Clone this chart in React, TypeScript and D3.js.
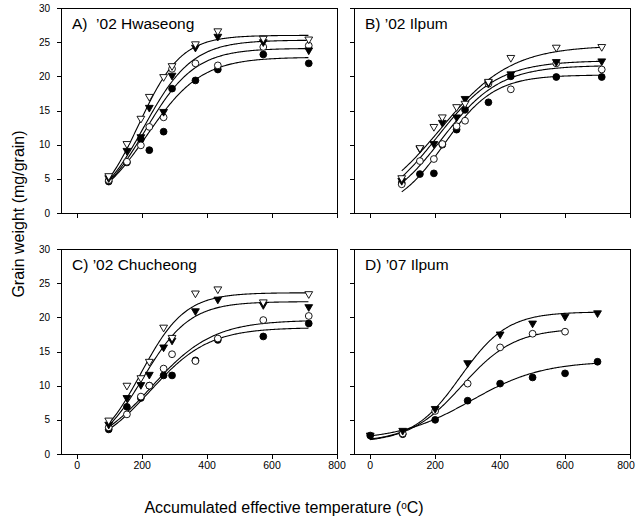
import React from 'react';
import * as d3 from 'd3';

const xTicks = [0, 200, 400, 600, 800];
const yTicks = [0, 5, 10, 15, 20, 25, 30];

// accumulated effective temperature (oC) at sampling
const temp02 = [97, 153, 196, 222, 266, 292, 364, 433, 573, 713];
const temp07 = [0, 100, 200, 300, 400, 500, 600, 700];

// A) '02 Hwaseong
const hwaOpenTri = [5.3, 10.0, 13.7, 16.9, 19.8, 21.4, 24.6, 26.5, 25.4, 25.3];
const hwaFillTri = [5.0, 9.0, 11.0, 15.3, 14.7, 20.0, 24.1, 25.7, 24.9, 23.7];
const hwaOpenCirc = [4.8, 7.5, 9.9, 12.6, 14.0, 21.1, 21.9, 21.6, 24.3, 24.5];
const hwaFillCirc = [4.6, 7.4, 10.8, 9.2, 11.9, 18.2, 19.4, 21.0, 23.2, 21.9];

// B) '02 Ilpum
const ilpOpenTri = [5.0, 9.4, 12.5, 13.9, 15.4, 15.9, 19.1, 22.6, 24.1, 24.2];
const ilpFillTri = [4.6, 9.3, 10.0, 13.1, 13.9, 16.6, 18.9, 20.2, 22.0, 22.1];
const ilpOpenCirc = [4.2, 7.6, 7.9, 10.1, 12.7, 13.5, 18.9, 18.1, 21.9, 21.0];
const ilpFillCirc = [4.4, 5.7, 5.8, 10.0, 12.2, 15.1, 16.2, 20.0, 19.9, 19.9];

// C) '02 Chucheong
const chuOpenTri = [4.8, 9.9, 11.0, 13.4, 18.4, 16.9, 23.4, 24.0, 22.1, 23.3];
const chuFillTri = [4.2, 8.1, 10.0, 11.5, 15.5, 16.5, 20.8, 22.5, 21.7, 21.4];
const chuOpenCirc = [3.9, 5.8, 8.4, 10.0, 12.5, 14.6, 13.6, 16.9, 19.6, 20.2];
const chuFillCirc = [3.6, 6.9, 8.2, 10.0, 11.5, 11.5, 13.7, 16.7, 17.2, 19.1];

// D) '07 Ilpum
const ilp07FillTri = [2.6, 3.3, 6.5, 13.2, 17.4, 19.0, 20.0, 20.5];
const ilp07OpenCirc = [null, 3.0, 6.3, 10.3, 15.6, 17.6, 17.9, null];
const ilp07FillCirc = [2.7, 2.9, 5.0, 7.8, 10.3, 11.2, 11.8, 13.5];

// sigmoid fits y = y0 + a / (1 + exp(-(x - x0) / b)) : [y0, a, x0, b]
const hwaFits = [[0, 26, 190, 65], [0, 25.3, 206, 74.4], [0, 24.1, 209, 76.8], [0, 22.8, 215, 83.8]];
const ilpFits = [[0, 24.5, 215.6, 109], [0, 22.3, 206.7, 93.5], [0, 21.6, 219.7, 89.7], [0, 20.2, 228, 76.7]];
const chuFits = [[0, 23.6, 196, 68], [0, 22.3, 203, 72], [0, 19.6, 228, 95], [0, 18.5, 225, 90]];
const ilp07Fits = [[1.8, 19.0, 277.6, 72.3], [1.6, 16.8, 282.6, 81.1], [2.0, 11.6, 310, 110]];
const fitRange02 = [[97, 713], [97, 713], [97, 713], [97, 713]];
const fitRange07 = [[0, 700], [0, 600], [0, 700]];

type Kind = 'openTri' | 'fillTri' | 'openCirc' | 'fillCirc';
interface Series { kind: Kind; values: (number | null)[]; fit: number[]; range: number[] }
interface PanelProps {
  left: number; top: number; width: number; height: number;
  title: string; temps: number[]; series: Series[];
  xLabels: boolean; yLabels: boolean;
}

const font = '"Liberation Sans", Arial, sans-serif';
// filled circles go underneath, open triangles on top
const drawOrder: Kind[] = ['fillCirc', 'openCirc', 'fillTri', 'openTri'];

const sigmoid = (p: number[], x: number) => p[0] + p[1] / (1 + Math.exp(-(x - p[2]) / p[3]));

const Marker = ({ kind, cx, cy }: { kind: Kind; cx: number; cy: number }) => {
  const fill = kind.startsWith('fill') ? '#000' : '#fff';
  if (kind.endsWith('Circ')) {
    return <circle cx={cx} cy={cy} r={3.4} fill={fill} stroke="#000" strokeWidth={0.9} />;
  }
  const d = `M${cx - 3.9},${cy - 3.1}L${cx + 3.9},${cy - 3.1}L${cx},${cy + 3.6}Z`;
  return <path d={d} fill={fill} stroke="#000" strokeWidth={0.9} />;
};

const Panel = ({ left, top, width, height, title, temps, series, xLabels, yLabels }: PanelProps) => {
  const x = d3.scaleLinear().domain([-50, 800]).range([left, left + width]);
  const y = d3.scaleLinear().domain([0, 30]).range([top + height, top]);
  const bottom = top + height;

  const sorted = drawOrder
    .map(k => series.find(s => s.kind === k))
    .filter((s): s is Series => !!s);

  return (
    <g>
      <rect x={left + 0.5} y={top + 0.5} width={width} height={height} fill="none" stroke="#000" strokeWidth={1} />
      {yTicks.map(t => (
        <g key={'y' + t}>
          <line x1={left - 4} x2={left} y1={Math.round(y(t)) + 0.5} y2={Math.round(y(t)) + 0.5} stroke="#000" />
          {yLabels && (
            <text x={left - 11} y={y(t)} dy="0.35em" textAnchor="end" fontSize={10} fontFamily={font}>{t}</text>
          )}
        </g>
      ))}
      {xTicks.map(t => (
        <g key={'x' + t}>
          <line x1={Math.round(x(t)) + 0.5} x2={Math.round(x(t)) + 0.5} y1={bottom} y2={bottom + 5} stroke="#000" />
          {xLabels && (
            <text x={Math.min(x(t), 626)} y={bottom + 15} textAnchor="middle" fontSize={10.5} fontFamily={font}>{t}</text>
          )}
        </g>
      ))}
      <text x={left + 11} y={top + 21} fontSize={15.5} fontFamily={font} style={{ whiteSpace: 'pre' }}>{title}</text>
      {series.map((s, i) => {
        const pts = d3.range(s.range[0], s.range[1] + 0.1, 3);
        const path = d3.line<number>().x(d => x(d)).y(d => y(sigmoid(s.fit, d)))(pts);
        return <path key={'c' + i} d={path || ''} fill="none" stroke="#000" strokeWidth={1.1} />;
      })}
      {sorted.map(s => s.values.map((v, j) =>
        v == null ? null : <Marker key={s.kind + j} kind={s.kind} cx={x(temps[j])} cy={y(v)} />
      ))}
    </g>
  );
};

const build = (vals: (number | null)[][], fits: number[][], kinds: Kind[], ranges: number[][]): Series[] =>
  kinds.map((k, i) => ({ kind: k, values: vals[i], fit: fits[i], range: ranges[i] }));

const kinds4: Kind[] = ['openTri', 'fillTri', 'openCirc', 'fillCirc'];
const kinds3: Kind[] = ['fillTri', 'openCirc', 'fillCirc'];

export default function App() {
  const w = 276;
  const h = 205;
  return (
    <svg width={636} height={520} style={{ position: 'absolute', left: 0, top: 0, background: '#fff' }}>
      <Panel left={61} top={8} width={w} height={h} title={'A)  \u201902 Hwaseong'} temps={temp02}
        series={build([hwaOpenTri, hwaFillTri, hwaOpenCirc, hwaFillCirc], hwaFits, kinds4, fitRange02)}
        xLabels={false} yLabels={true} />
      <Panel left={354} top={8} width={w} height={h} title={'B) \u201902 Ilpum'} temps={temp02}
        series={build([ilpOpenTri, ilpFillTri, ilpOpenCirc, ilpFillCirc], ilpFits, kinds4, fitRange02)}
        xLabels={false} yLabels={false} />
      <Panel left={61} top={249} width={w} height={h} title={'C) \u201902 Chucheong'} temps={temp02}
        series={build([chuOpenTri, chuFillTri, chuOpenCirc, chuFillCirc], chuFits, kinds4, fitRange02)}
        xLabels={true} yLabels={true} />
      <Panel left={354} top={249} width={w} height={h} title={'D) \u201907 Ilpum'} temps={temp07}
        series={build([ilp07FillTri, ilp07OpenCirc, ilp07FillCirc], ilp07Fits, kinds3, fitRange07)}
        xLabels={true} yLabels={false} />
      <text transform="translate(24,214) rotate(-90)" textAnchor="middle" fontSize={16} fontFamily={font}>
        Grain weight (mg/grain)
      </text>
      <text x={284} y={512.5} textAnchor="middle" fontSize={16} fontFamily={font}>
        Accumulated effective temperature (<tspan fontSize={10} dy={-4}>o</tspan><tspan dy={4}>C)</tspan>
      </text>
    </svg>
  );
}
